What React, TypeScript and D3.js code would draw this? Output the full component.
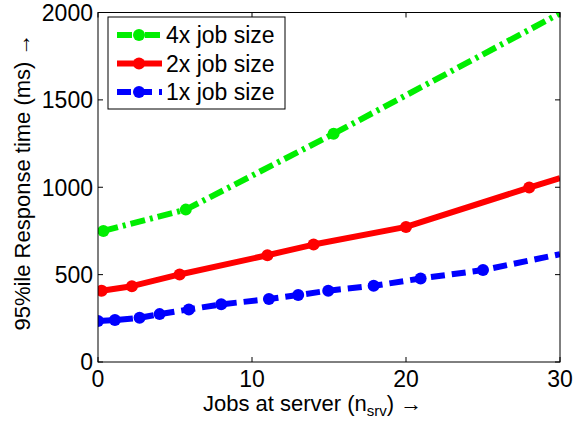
import React from "react";
import * as d3 from "d3";

const xTicks = [0, 10, 20, 30];
const yTicks = [0, 500, 1000, 1500, 2000];

const x1 = [0, 1.1, 2.7, 4.0, 5.9, 8.0, 11.1, 13.0, 14.95, 17.9, 20.95, 25.0, 30];
const y1 = [234, 240, 253, 274, 301, 330, 360, 383, 408, 436, 478, 526, 617];
const x2 = [0.24, 2.2, 5.3, 11.0, 14.0, 20.0, 28.0, 30];
const y2 = [408, 434, 501, 611, 672, 773, 998, 1052];
const x4 = [0.35, 5.7, 15.3, 30];
const y4 = [750, 872, 1306, 1995];

const seriesNames = ["4x job size", "2x job size", "1x job size"];

const W = 580, H = 421;
const L = 98, R = 560, T = 12.5, B = 362;

export default function App() {
  const x = d3.scaleLinear().domain([0, 30]).range([L, R]);
  const y = d3.scaleLinear().domain([0, 2000]).range([B, T]);
  const line = d3.line<[number, number]>().x(d => x(d[0])).y(d => y(d[1]));

  const series = [
    { name: seriesNames[0], xs: x4, ys: y4, color: "#00ee00", dash: "15 5 3 5", width: 6 },
    { name: seriesNames[1], xs: x2, ys: y2, color: "#ff0000", dash: "none", width: 6 },
    { name: seriesNames[2], xs: x1, ys: y1, color: "#0000ff", dash: "14 7", width: 6 },
  ];
  const font = "'Liberation Sans', Arial, Helvetica, sans-serif";
  const tl = 5;

  return (
    <svg width={W} height={H} style={{ position: "absolute", left: 0, top: 0, background: "#fff" }} fontFamily={font}>
      <defs>
        <clipPath id="plot">
          <rect x={L} y={T} width={R - L} height={B - T} />
        </clipPath>
      </defs>
      <rect x={0} y={0} width={W} height={H} fill="#fff" />
      {/* series */}
      <g clipPath="url(#plot)">
        {series.map(s => {
          const pts = s.xs.map((v, i) => [v, s.ys[i]] as [number, number]);
          return (
            <g key={s.name}>
              <path d={line(pts) || ""} fill="none" stroke={s.color} strokeWidth={s.width}
                strokeDasharray={s.dash} strokeLinejoin="round" />
              {pts.filter(p => p[0] < 30).map((p, i) => (
                <circle key={i} cx={x(p[0])} cy={y(p[1])} r={6} fill={s.color} />
              ))}
            </g>
          );
        })}
      </g>
      {/* frame */}
      <rect x={L} y={T} width={R - L} height={B - T} fill="none" stroke="#000" strokeWidth={1} />
      {/* x ticks */}
      {xTicks.map(t => (
        <g key={"x" + t}>
          <line x1={x(t)} x2={x(t)} y1={B} y2={B - tl} stroke="#000" />
          <line x1={x(t)} x2={x(t)} y1={T} y2={T + tl} stroke="#000" />
          <text x={x(t)} y={387} textAnchor="middle" fontSize={23}>{t}</text>
        </g>
      ))}
      {/* y ticks */}
      {yTicks.map(t => (
        <g key={"y" + t}>
          <line x1={L} x2={L + tl} y1={y(t)} y2={y(t)} stroke="#000" />
          <line x1={R} x2={R - tl} y1={y(t)} y2={y(t)} stroke="#000" />
          <text x={93} y={y(t)} dy="0.36em" textAnchor="end" fontSize={23}>{t}</text>
        </g>
      ))}
      {/* axis titles */}
      <text x={203} y={411} fontSize={22}>
        Jobs at server (n<tspan fontSize={15} dy={5}>srv</tspan><tspan dy={-5}>) →</tspan>
      </text>
      <text transform={`translate(30,182) rotate(-90)`} textAnchor="middle" fontSize={22}>
        95%ile Response time (ms) →
      </text>
      {/* legend */}
      <rect x={108} y={17} width={177} height={92} fill="#fff" stroke="#000" strokeWidth={1} />
      {series.map((s, i) => {
        const ly = 35 + i * 28.5;
        return (
          <g key={"lg" + s.name}>
            <line x1={117} x2={162} y1={ly} y2={ly} stroke={s.color} strokeWidth={s.width}
              strokeDasharray={s.dash} />
            <circle cx={139} cy={ly} r={6} fill={s.color} />
            <text x={166} y={ly + 8} fontSize={23}>{s.name}</text>
          </g>
        );
      })}
    </svg>
  );
}
